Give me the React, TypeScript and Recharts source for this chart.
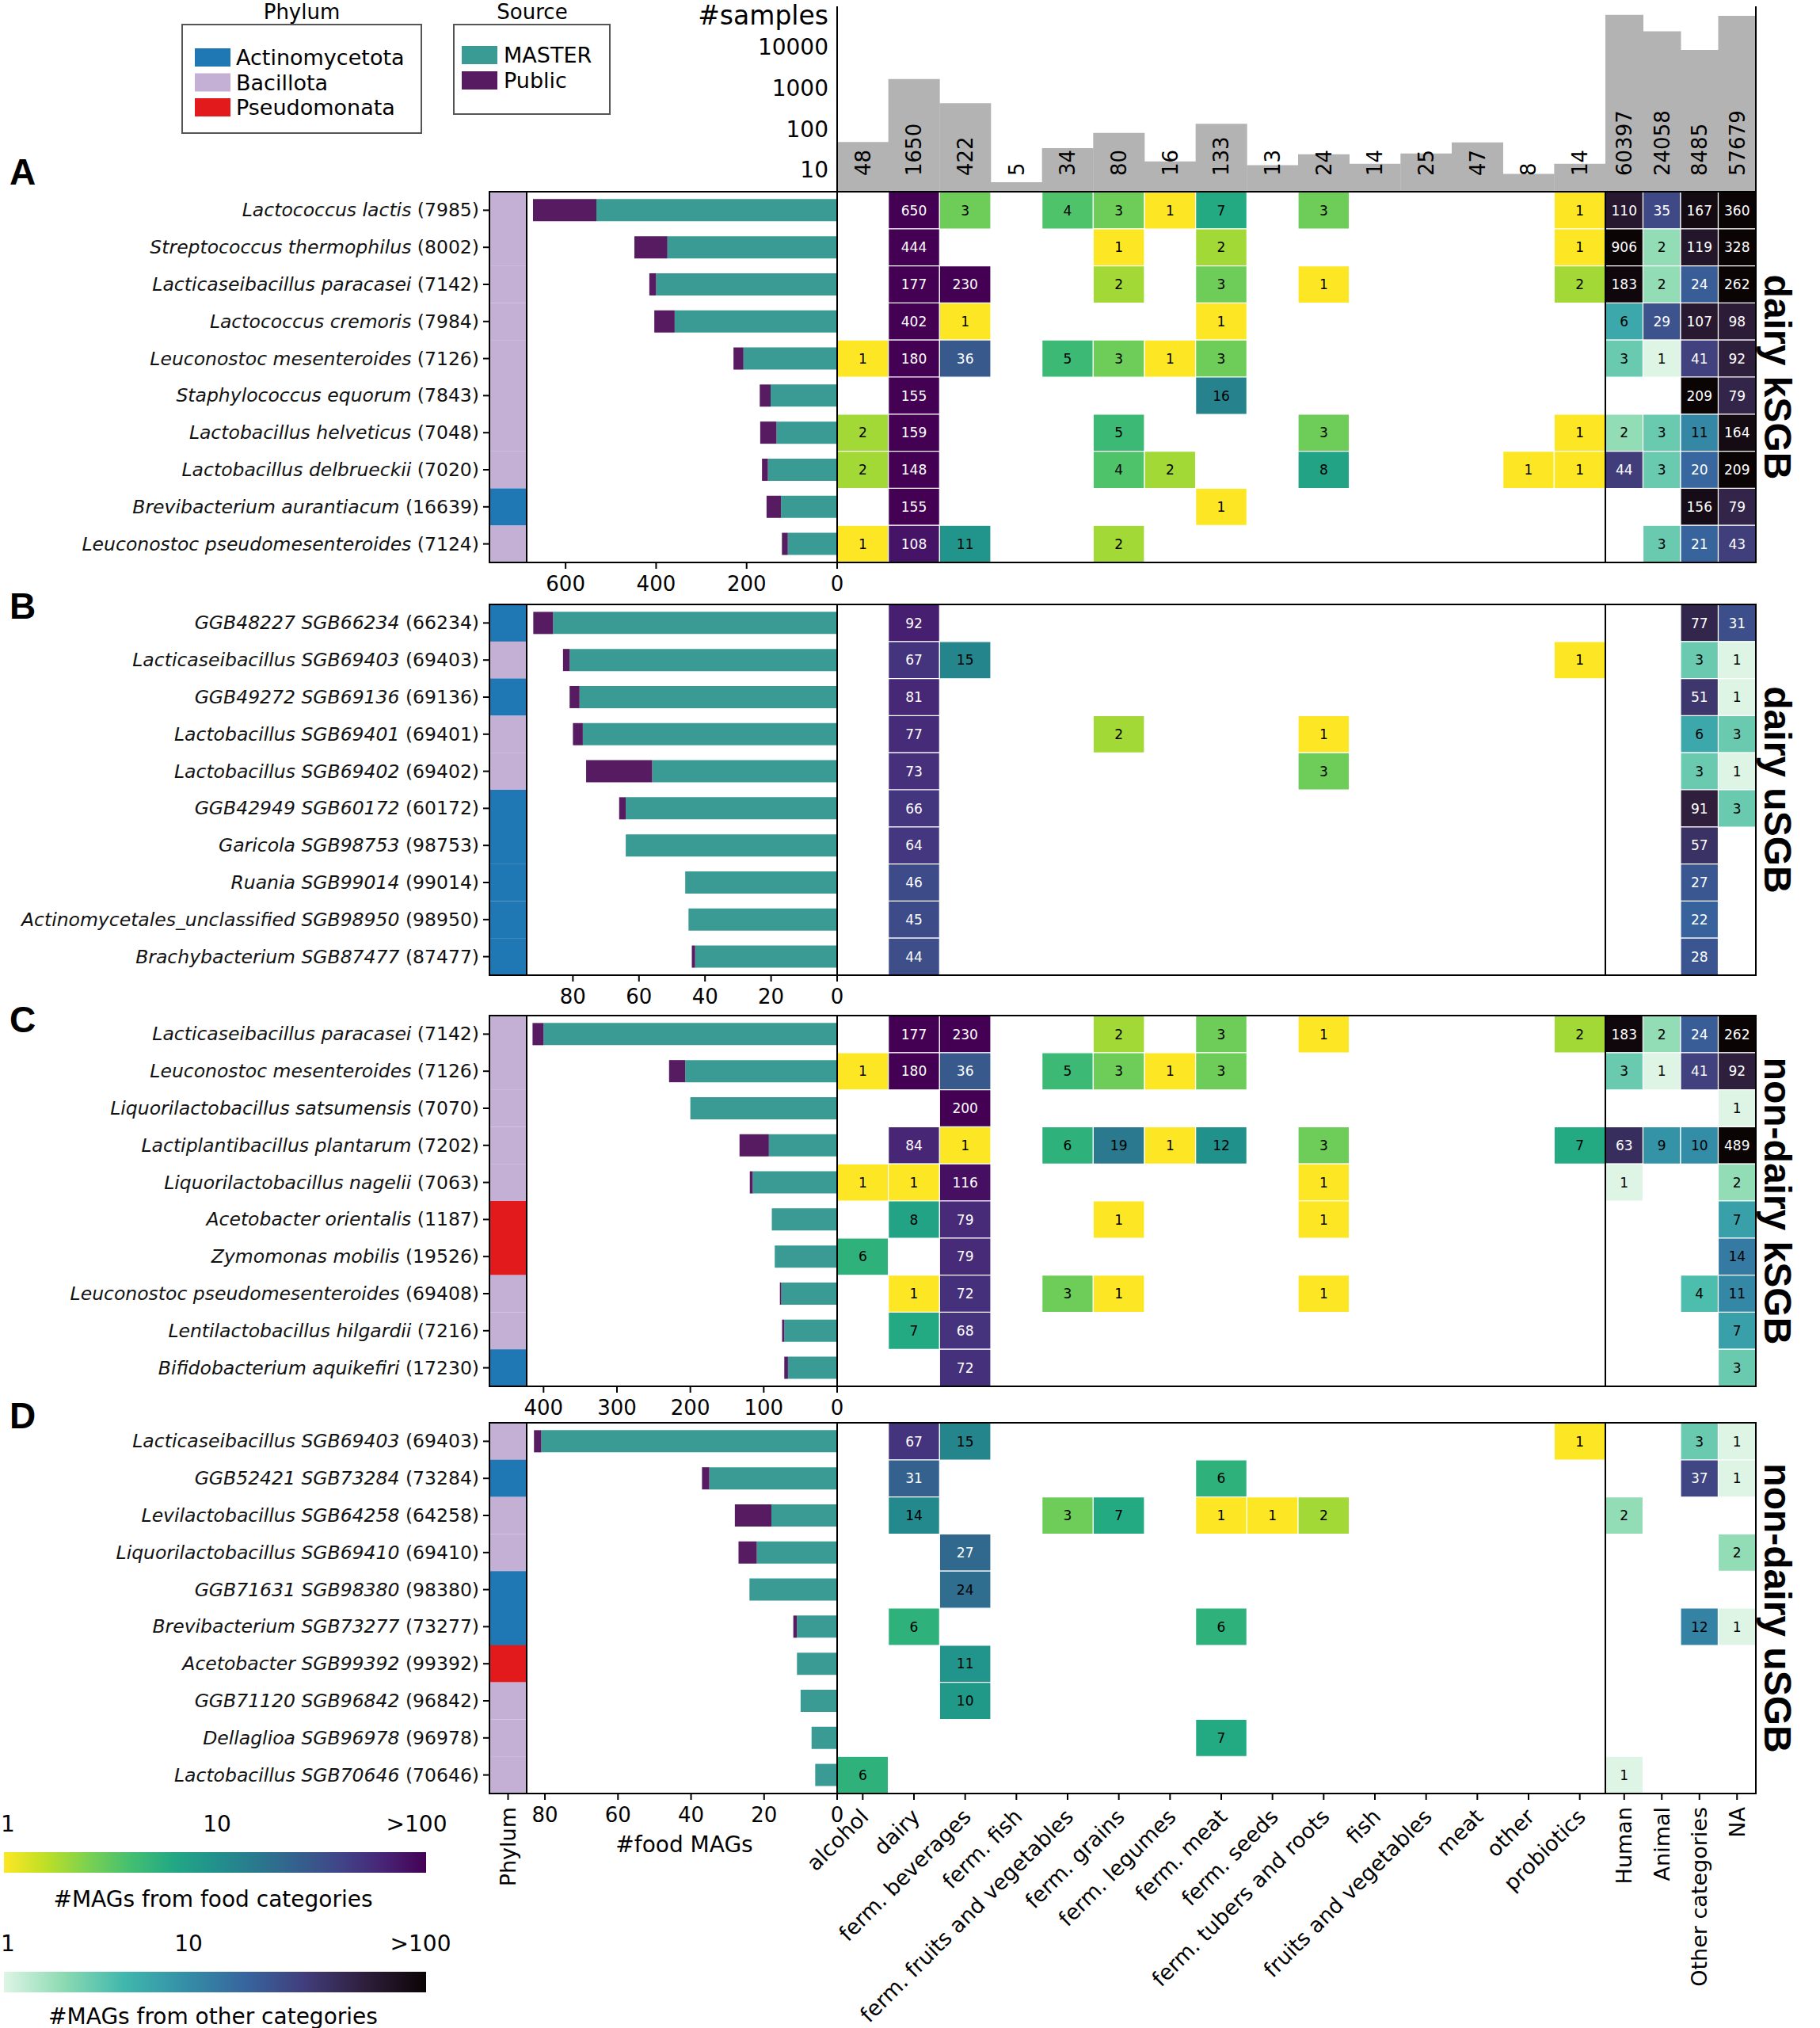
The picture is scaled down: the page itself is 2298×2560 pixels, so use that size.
import React from 'react'
import { BarChart, Bar, XAxis, YAxis, Cell, LabelList } from 'recharts'

// ---------- categories & sample counts ----------
const FOOD_CATS = [
  'alcohol', 'dairy', 'ferm. beverages', 'ferm. fish', 'ferm. fruits and vegetables',
  'ferm. grains', 'ferm. legumes', 'ferm. meat', 'ferm. seeds', 'ferm. tubers and roots',
  'fish', 'fruits and vegetables', 'meat', 'other', 'probiotics',
]
const OTHER_CATS = ['Human', 'Animal', 'Other categories', 'NA']
const FOOD_SAMPLES = [48, 1650, 422, 5, 34, 80, 16, 133, 13, 24, 14, 25, 47, 8, 14]
const OTHER_SAMPLES = [60397, 24058, 8485, 57679]

// ---------- panel A: dairy kSGB ----------
const A_NAMES = [
  'Lactococcus lactis (7985)', 'Streptococcus thermophilus (8002)', 'Lacticaseibacillus paracasei (7142)',
  'Lactococcus cremoris (7984)', 'Leuconostoc mesenteroides (7126)', 'Staphylococcus equorum (7843)',
  'Lactobacillus helveticus (7048)', 'Lactobacillus delbrueckii (7020)', 'Brevibacterium aurantiacum (16639)',
  'Leuconostoc pseudomesenteroides (7124)',
]
const A_PHYLUM = ['B', 'B', 'B', 'B', 'B', 'B', 'B', 'B', 'A', 'B']
const A_MASTER = [532, 375, 400, 359, 207, 147, 134, 153, 124, 109]
const A_PUBLIC = [140, 73, 15, 45, 22, 24, 36, 13, 32, 13]
const A_FOOD = [
  [0, 650, 3, 0, 4, 3, 1, 7, 0, 3, 0, 0, 0, 0, 1],
  [0, 444, 0, 0, 0, 1, 0, 2, 0, 0, 0, 0, 0, 0, 1],
  [0, 177, 230, 0, 0, 2, 0, 3, 0, 1, 0, 0, 0, 0, 2],
  [0, 402, 1, 0, 0, 0, 0, 1, 0, 0, 0, 0, 0, 0, 0],
  [1, 180, 36, 0, 5, 3, 1, 3, 0, 0, 0, 0, 0, 0, 0],
  [0, 155, 0, 0, 0, 0, 0, 16, 0, 0, 0, 0, 0, 0, 0],
  [2, 159, 0, 0, 0, 5, 0, 0, 0, 3, 0, 0, 0, 0, 1],
  [2, 148, 0, 0, 0, 4, 2, 0, 0, 8, 0, 0, 0, 1, 1],
  [0, 155, 0, 0, 0, 0, 0, 1, 0, 0, 0, 0, 0, 0, 0],
  [1, 108, 11, 0, 0, 2, 0, 0, 0, 0, 0, 0, 0, 0, 0],
]
const A_OTHER = [
  [110, 35, 167, 360], [906, 2, 119, 328], [183, 2, 24, 262], [6, 29, 107, 98], [3, 1, 41, 92],
  [0, 0, 209, 79], [2, 3, 11, 164], [44, 3, 20, 209], [0, 0, 156, 79], [0, 3, 21, 43],
]

// ---------- panel B: dairy uSGB ----------
const B_NAMES = [
  'GGB48227 SGB66234 (66234)', 'Lacticaseibacillus SGB69403 (69403)', 'GGB49272 SGB69136 (69136)',
  'Lactobacillus SGB69401 (69401)', 'Lactobacillus SGB69402 (69402)', 'GGB42949 SGB60172 (60172)',
  'Garicola SGB98753 (98753)', 'Ruania SGB99014 (99014)', 'Actinomycetales_unclassified SGB98950 (98950)',
  'Brachybacterium SGB87477 (87477)',
]
const B_PHYLUM = ['A', 'B', 'A', 'B', 'B', 'A', 'A', 'A', 'A', 'A']
const B_MASTER = [86, 81, 78, 77, 56, 64, 64, 46, 45, 43]
const B_PUBLIC = [6, 2, 3, 3, 20, 2, 0, 0, 0, 1]
const B_FOOD = [
  [0, 92], [0, 67, 15, 0, 0, 0, 0, 0, 0, 0, 0, 0, 0, 0, 1], [0, 81],
  [0, 77, 0, 0, 0, 2, 0, 0, 0, 1], [0, 73, 0, 0, 0, 0, 0, 0, 0, 3],
  [0, 66], [0, 64], [0, 46], [0, 45], [0, 44],
]
const B_OTHER = [
  [0, 0, 77, 31], [0, 0, 3, 1], [0, 0, 51, 1], [0, 0, 6, 3], [0, 0, 3, 1],
  [0, 0, 91, 3], [0, 0, 57, 0], [0, 0, 27, 0], [0, 0, 22, 0], [0, 0, 28, 0],
]

// ---------- panel C: non-dairy kSGB ----------
const C_NAMES = [
  'Lacticaseibacillus paracasei (7142)', 'Leuconostoc mesenteroides (7126)', 'Liquorilactobacillus satsumensis (7070)',
  'Lactiplantibacillus plantarum (7202)', 'Liquorilactobacillus nagelii (7063)', 'Acetobacter orientalis (1187)',
  'Zymomonas mobilis (19526)', 'Leuconostoc pseudomesenteroides (69408)', 'Lentilactobacillus hilgardii (7216)',
  'Bifidobacterium aquikefiri (17230)',
]
const C_PHYLUM = ['B', 'B', 'B', 'B', 'B', 'P', 'P', 'B', 'B', 'A']
const C_MASTER = [400, 207, 200, 93, 115, 89, 85, 76, 72, 67]
const C_PUBLIC = [15, 22, 0, 40, 4, 0, 0, 2, 3, 5]
const C_FOOD = [
  [0, 177, 230, 0, 0, 2, 0, 3, 0, 1, 0, 0, 0, 0, 2],
  [1, 180, 36, 0, 5, 3, 1, 3],
  [0, 0, 200],
  [0, 84, 1, 0, 6, 19, 1, 12, 0, 3, 0, 0, 0, 0, 7],
  [1, 1, 116, 0, 0, 0, 0, 0, 0, 1],
  [0, 8, 79, 0, 0, 1, 0, 0, 0, 1],
  [6, 0, 79],
  [0, 1, 72, 0, 3, 1, 0, 0, 0, 1],
  [0, 7, 68],
  [0, 0, 72],
]
const C_OTHER = [
  [183, 2, 24, 262], [3, 1, 41, 92], [0, 0, 0, 1], [63, 9, 10, 489], [1, 0, 0, 2],
  [0, 0, 0, 7], [0, 0, 0, 14], [0, 0, 4, 11], [0, 0, 0, 7], [0, 0, 0, 3],
]

// ---------- panel D: non-dairy uSGB ----------
const D_NAMES = [
  'Lacticaseibacillus SGB69403 (69403)', 'GGB52421 SGB73284 (73284)', 'Levilactobacillus SGB64258 (64258)',
  'Liquorilactobacillus SGB69410 (69410)', 'GGB71631 SGB98380 (98380)', 'Brevibacterium SGB73277 (73277)',
  'Acetobacter SGB99392 (99392)', 'GGB71120 SGB96842 (96842)', 'Dellaglioa SGB96978 (96978)',
  'Lactobacillus SGB70646 (70646)',
]
const D_PHYLUM = ['B', 'A', 'B', 'B', 'A', 'A', 'P', 'B', 'B', 'B']
const D_MASTER = [81, 35, 18, 22, 24, 11, 11, 10, 7, 6]
const D_PUBLIC = [2, 2, 10, 5, 0, 1, 0, 0, 0, 0]
const D_FOOD = [
  [0, 67, 15, 0, 0, 0, 0, 0, 0, 0, 0, 0, 0, 0, 1],
  [0, 31, 0, 0, 0, 0, 0, 6],
  [0, 14, 0, 0, 3, 7, 0, 1, 1, 2],
  [0, 0, 27], [0, 0, 24],
  [0, 6, 0, 0, 0, 0, 0, 6],
  [0, 0, 11], [0, 0, 10],
  [0, 0, 0, 0, 0, 0, 0, 7],
  [6],
]
const D_OTHER = [
  [0, 0, 3, 1], [0, 0, 37, 1], [2, 0, 0, 0], [0, 0, 0, 2], [0, 0, 0, 0],
  [0, 0, 12, 1], [0, 0, 0, 0], [0, 0, 0, 0], [0, 0, 0, 0], [1, 0, 0, 0],
]

const PANELS = [
  { letter: 'A', title: 'dairy kSGB', names: A_NAMES, phylum: A_PHYLUM, master: A_MASTER, pub: A_PUBLIC, food: A_FOOD, other: A_OTHER, max: 686, ticks: [0, 200, 400, 600] },
  { letter: 'B', title: 'dairy uSGB', names: B_NAMES, phylum: B_PHYLUM, master: B_MASTER, pub: B_PUBLIC, food: B_FOOD, other: B_OTHER, max: 94, ticks: [0, 20, 40, 60, 80] },
  { letter: 'C', title: 'non-dairy kSGB', names: C_NAMES, phylum: C_PHYLUM, master: C_MASTER, pub: C_PUBLIC, food: C_FOOD, other: C_OTHER, max: 423, ticks: [0, 100, 200, 300, 400] },
  { letter: 'D', title: 'non-dairy uSGB', names: D_NAMES, phylum: D_PHYLUM, master: D_MASTER, pub: D_PUBLIC, food: D_FOOD, other: D_OTHER, max: 85, ticks: [0, 20, 40, 60, 80] },
]

// ---------- layout ----------
const W = 2298
const H = 2560
const PHY_X = 618
const BAR_X = 665
const HEAT_X = 1057
const DIV_X = 2027
const RIGHT_X = 2217
const TOPS = [242, 763, 1282, 1796]
const LETTER_Y = [233, 781, 1303, 1803]
const PH = 468
const M0 = { top: 0, right: 0, bottom: 0, left: 0 }

const FONT = '"DejaVu Sans", Verdana, sans-serif'
const BOLD = '"Liberation Sans", Arial, sans-serif'
const MASTER_C = '#3a9b95'
const PUBLIC_C = '#561b60'
const PHYLUM_C: Record<string, string> = { A: '#1f77b4', B: '#c5b0d5', P: '#e31a1c' }
const TL = { stroke: '#000', strokeWidth: 2 }

// ---------- colour maps ----------
const VIRIDIS = ['#440154', '#482475', '#414487', '#355f8d', '#2a788e', '#21918c', '#22a884', '#44bf70', '#7ad151', '#bddf26', '#fde725']
const MAKO: [number, string][] = [
  [0, '#0b0405'], [1 / 7, '#2e1e3b'], [2 / 7, '#413d7b'], [3 / 7, '#37659e'],
  [4 / 7, '#348fa7'], [5 / 7, '#40b7ad'], [6 / 7, '#8bdab2'], [1, '#def5e5'],
]
const VIR_STOPS: [number, string][] = VIRIDIS.map((c, i) => [i / 10, c])

function rgb(h: string) {
  return [1, 3, 5].map(i => parseInt(h.slice(i, i + 2), 16))
}
function interp(stops: [number, string][], t: number) {
  t = Math.max(0, Math.min(1, t))
  let k = 0
  while (k < stops.length - 2 && t > stops[k + 1][0]) k++
  const [t0, c0] = stops[k]
  const [t1, c1] = stops[k + 1]
  const f = (t - t0) / (t1 - t0)
  const a = rgb(c0), b = rgb(c1)
  return a.map((v, i) => Math.round(v + (b[i] - v) * f))
}
const toHex = (c: number[]) => '#' + c.map(v => v.toString(16).padStart(2, '0')).join('')
const lum = (c: number[]) => (0.2126 * c[0] + 0.7152 * c[1] + 0.0722 * c[2]) / 255

const foodRgb = (v: number) => interp(VIR_STOPS, 1 - Math.log10(v) / 2.15)
const otherRgb = (v: number) => interp(MAKO, 1 - Math.log10(v) / 2.3)

// ---------- ticks & labels ----------
function SpeciesTick(props: any) {
  const { x, y, payload } = props
  const s = String(payload.value)
  const k = s.lastIndexOf(' (')
  return (
    <text x={x} y={y} textAnchor="end" dominantBaseline="central" fontSize={23.5} fill="#111">
      <tspan fontStyle="italic">{s.slice(0, k) + ' '}</tspan>
      <tspan>{s.slice(k + 1)}</tspan>
    </text>
  )
}

function PhylumTick(props: any) {
  const { x, y } = props
  return (
    <text transform={`translate(${x},${y + 9}) rotate(-90)`} textAnchor="end" dominantBaseline="central" fontSize={27} fill="#000">
      Phylum
    </text>
  )
}

function FoodTick(props: any) {
  const { x, y, payload } = props
  const lab = FOOD_CATS[Math.floor(payload.value)]
  return (
    <text transform={`translate(${x + 9},${y + 23}) rotate(-45)`} textAnchor="end" fontSize={27} fill="#000">
      {lab}
    </text>
  )
}

function OtherTick(props: any) {
  const { x, y, payload } = props
  const lab = OTHER_CATS[Math.floor(payload.value)]
  return (
    <text transform={`translate(${x},${y + 9}) rotate(-90)`} textAnchor="end" dominantBaseline="central" fontSize={27} fill="#000">
      {lab}
    </text>
  )
}

const cellLabel = (kind: 'food' | 'other') => (p: any) => {
  const v = Number(p.value)
  if (!v) return null
  const c = kind === 'food' ? foodRgb(v) : otherRgb(v)
  return (
    <text x={p.x + p.width / 2} y={p.y + p.height / 2} textAnchor="middle" dominantBaseline="central"
      fontSize={17} fill={lum(c) < 0.38 ? '#fff' : '#000'}>
      {v}
    </text>
  )
}
const foodLabel = cellLabel('food')
const otherLabel = cellLabel('other')

const histLabel = (p: any) => {
  const cx = p.x + p.width / 2
  const by = p.y + p.height - 20
  return (
    <text transform={`translate(${cx},${by}) rotate(-90)`} textAnchor="start" dominantBaseline="central" fontSize={26} fill="#000">
      {p.value}
    </text>
  )
}

// ---------- rows ----------
function buildRows(p: any) {
  return p.names.map((name: string, i: number) => {
    const r: any = { name, phy: p.phylum[i], one: 1, master: p.master[i], pub: p.pub[i] }
    FOOD_CATS.forEach((_, j) => { r['u' + j] = 1; r['f' + j] = p.food[i][j] ?? 0 })
    OTHER_CATS.forEach((_, j) => { r['w' + j] = 1; r['o' + j] = p.other[i][j] ?? 0 })
    return r
  })
}

const FOOD_TICKS = FOOD_CATS.map((_, j) => j + 0.5)
const OTHER_TICKS = OTHER_CATS.map((_, j) => j + 0.5)

function Panel({ p, top, last }: { p: any; top: number; last: boolean }) {
  const rows = buildRows(p)
  const axPhy = last ? 140 : 20
  const axHeat = last ? 300 : 14
  return (
    <>
      <div style={{ position: 'absolute', left: 0, top }}>
        <BarChart width={BAR_X} height={PH + axPhy} data={rows} layout="vertical" margin={M0} barCategoryGap={0}>
          <XAxis type="number" domain={[0, 1]} ticks={[0.5]} allowDataOverflow tickSize={8} tickMargin={0}
            tickLine={TL} axisLine={false} height={axPhy} tick={last ? <PhylumTick /> : false} />
          <YAxis type="category" dataKey="name" width={PHY_X} tickSize={8} tickMargin={5} tickLine={TL}
            axisLine={false} tick={<SpeciesTick />} interval={0} />
          <Bar dataKey="one" isAnimationActive={false}>
            {rows.map((r: any, i: number) => <Cell key={i} fill={PHYLUM_C[r.phy]} />)}
          </Bar>
        </BarChart>
      </div>
      <div style={{ position: 'absolute', left: BAR_X, top }}>
        <BarChart width={HEAT_X - BAR_X} height={PH + 50} data={rows} layout="vertical" margin={M0} barCategoryGap="20%">
          <XAxis type="number" domain={[0, p.max]} reversed allowDataOverflow ticks={p.ticks} tickSize={8} tickMargin={10}
            tickLine={TL} axisLine={false} height={50} interval={0} tick={{ fontSize: 26, fill: '#000' }} />
          <YAxis type="category" dataKey="name" hide />
          <Bar dataKey="master" stackId="s" fill={MASTER_C} isAnimationActive={false} />
          <Bar dataKey="pub" stackId="s" fill={PUBLIC_C} isAnimationActive={false} />
        </BarChart>
      </div>
      <div style={{ position: 'absolute', left: HEAT_X, top }}>
        <BarChart width={DIV_X - HEAT_X} height={PH + axHeat} data={rows} layout="vertical" margin={M0} barCategoryGap={0}>
          <XAxis type="number" domain={[0, FOOD_CATS.length]} ticks={FOOD_TICKS} allowDataOverflow tickSize={8} tickMargin={0}
            tickLine={TL} axisLine={false} height={axHeat} interval={0} tick={last ? <FoodTick /> : false} />
          <YAxis type="category" dataKey="name" hide />
          {FOOD_CATS.map((c, j) => (
            <Bar key={c} dataKey={'u' + j} stackId="h" isAnimationActive={false}>
              {rows.map((r: any, i: number) => (
                <Cell key={i} fill={r['f' + j] ? toHex(foodRgb(r['f' + j])) : 'rgba(255,255,255,0)'}
                  stroke={r['f' + j] ? '#ffffff' : 'none'} strokeWidth={1.2} />
              ))}
              <LabelList dataKey={'f' + j} content={foodLabel} />
            </Bar>
          ))}
        </BarChart>
      </div>
      <div style={{ position: 'absolute', left: DIV_X, top }}>
        <BarChart width={RIGHT_X - DIV_X} height={PH + axHeat} data={rows} layout="vertical" margin={M0} barCategoryGap={0}>
          <XAxis type="number" domain={[0, OTHER_CATS.length]} ticks={OTHER_TICKS} allowDataOverflow tickSize={8} tickMargin={0}
            tickLine={TL} axisLine={false} height={axHeat} interval={0} tick={last ? <OtherTick /> : false} />
          <YAxis type="category" dataKey="name" hide />
          {OTHER_CATS.map((c, j) => (
            <Bar key={c} dataKey={'w' + j} stackId="h" isAnimationActive={false}>
              {rows.map((r: any, i: number) => (
                <Cell key={i} fill={r['o' + j] ? toHex(otherRgb(r['o' + j])) : 'rgba(255,255,255,0)'}
                  stroke={r['o' + j] ? '#ffffff' : 'none'} strokeWidth={1.2} />
              ))}
              <LabelList dataKey={'o' + j} content={otherLabel} />
            </Bar>
          ))}
        </BarChart>
      </div>
    </>
  )
}

const HIST_DOMAIN: [number, number] = [2.93, 98000]
const HIST_TICKS = [10, 100, 1000, 10000]

function Histogram() {
  const food = FOOD_CATS.map((name, i) => ({ name, n: FOOD_SAMPLES[i] }))
  const other = OTHER_CATS.map((name, i) => ({ name, n: OTHER_SAMPLES[i] }))
  const YW = 110
  return (
    <>
      <div style={{ position: 'absolute', left: HEAT_X - YW, top: 0 }}>
        <BarChart width={DIV_X - HEAT_X + YW} height={252} data={food} margin={{ top: 8, right: 0, bottom: 0, left: 0 }} barCategoryGap={0}>
          <XAxis dataKey="name" type="category" tick={false} tickSize={8} tickLine={TL} axisLine={false} height={10} interval={0} />
          <YAxis type="number" scale="log" domain={HIST_DOMAIN} allowDataOverflow ticks={HIST_TICKS} width={YW}
            tickSize={0} tickMargin={11} tick={{ fontSize: 28, fill: '#000' }} axisLine={TL} interval={0} />
          <Bar dataKey="n" fill="#b3b3b3" isAnimationActive={false}>
            <LabelList dataKey="n" content={histLabel} />
          </Bar>
        </BarChart>
      </div>
      <div style={{ position: 'absolute', left: DIV_X, top: 0 }}>
        <BarChart width={RIGHT_X - DIV_X} height={252} data={other} margin={{ top: 8, right: 0, bottom: 0, left: 0 }} barCategoryGap={0}>
          <XAxis dataKey="name" type="category" tick={false} tickSize={8} tickLine={TL} axisLine={false} height={10} interval={0} />
          <YAxis type="number" scale="log" domain={HIST_DOMAIN} allowDataOverflow hide />
          <Bar dataKey="n" fill="#b3b3b3" isAnimationActive={false}>
            <LabelList dataKey="n" content={histLabel} />
          </Bar>
        </BarChart>
      </div>
    </>
  )
}

function Overlay() {
  const phyItems: [string, string][] = [['Actinomycetota', PHYLUM_C.A], ['Bacillota', PHYLUM_C.B], ['Pseudomonata', PHYLUM_C.P]]
  const srcItems: [string, string][] = [['MASTER', MASTER_C], ['Public', PUBLIC_C]]
  return (
    <svg width={W} height={H} style={{ position: 'absolute', left: 0, top: 0, pointerEvents: 'none' }}>
      <defs>
        <linearGradient id="gFood" x1="0" x2="1" y1="0" y2="0">
          {VIRIDIS.map((c, i) => <stop key={i} offset={i / 10} stopColor={VIRIDIS[10 - i]} />)}
        </linearGradient>
        <linearGradient id="gOther" x1="0" x2="1" y1="0" y2="0">
          {MAKO.map(([t], i) => <stop key={i} offset={1 - t} stopColor={MAKO[i][1]} />).reverse()}
        </linearGradient>
      </defs>

      {/* legends */}
      <text x={381} y={24} textAnchor="middle" fontSize={26}>Phylum</text>
      <rect x={230} y={31} width={302} height={137} fill="#fff" stroke="#555" strokeWidth={2} />
      {phyItems.map(([n, c], i) => (
        <g key={n}>
          <rect x={246} y={61 + i * 31.5} width={45} height={23} fill={c} />
          <text x={298} y={72.5 + i * 31.5} dominantBaseline="central" fontSize={27}>{n}</text>
        </g>
      ))}
      <text x={672} y={24} textAnchor="middle" fontSize={26}>Source</text>
      <rect x={573} y={31} width={197} height={113} fill="#fff" stroke="#555" strokeWidth={2} />
      {srcItems.map(([n, c], i) => (
        <g key={n}>
          <rect x={583} y={58 + i * 32} width={45} height={23} fill={c} />
          <text x={636} y={69.5 + i * 32} dominantBaseline="central" fontSize={27}>{n}</text>
        </g>
      ))}
      <text x={1046} y={31} textAnchor="end" fontSize={33}>#samples</text>
      <line x1={RIGHT_X} y1={8} x2={RIGHT_X} y2={242} stroke="#000" strokeWidth={2} />

      {/* panel frames and labels */}
      {PANELS.map((p, k) => {
        const t = TOPS[k]
        return (
          <g key={p.letter}>
            <rect x={PHY_X} y={t} width={HEAT_X - PHY_X} height={PH} fill="none" stroke="#000" strokeWidth={2} />
            <line x1={BAR_X} y1={t} x2={BAR_X} y2={t + PH} stroke="#000" strokeWidth={2} />
            <rect x={HEAT_X} y={t} width={RIGHT_X - HEAT_X} height={PH} fill="none" stroke="#000" strokeWidth={2} />
            <line x1={DIV_X} y1={t} x2={DIV_X} y2={t + PH} stroke="#000" strokeWidth={2} />
            <text x={12} y={LETTER_Y[k]} fontFamily={BOLD} fontWeight="bold" fontSize={46}>{p.letter}</text>
            <text transform={`translate(2244,${t + PH / 2}) rotate(90)`} textAnchor="middle" dominantBaseline="central"
              fontFamily={BOLD} fontWeight="bold" fontSize={48}>{p.title}</text>
          </g>
        )
      })}
      <text x={864} y={2328} textAnchor="middle" dominantBaseline="central" fontSize={28}>#food MAGs</text>

      {/* colour bars */}
      <text x={1} y={2302} dominantBaseline="central" fontSize={28}>1</text>
      <text x={274} y={2302} textAnchor="middle" dominantBaseline="central" fontSize={28}>10</text>
      <text x={526} y={2302} textAnchor="middle" dominantBaseline="central" fontSize={28}>{'>100'}</text>
      <rect x={5} y={2338} width={533} height={26} fill="url(#gFood)" />
      <text x={269} y={2397} textAnchor="middle" dominantBaseline="central" fontSize={28}>#MAGs from food categories</text>
      <text x={1} y={2453} dominantBaseline="central" fontSize={28}>1</text>
      <text x={238} y={2453} textAnchor="middle" dominantBaseline="central" fontSize={28}>10</text>
      <text x={531} y={2453} textAnchor="middle" dominantBaseline="central" fontSize={28}>{'>100'}</text>
      <rect x={5} y={2489} width={533} height={26} fill="url(#gOther)" />
      <text x={269} y={2545} textAnchor="middle" dominantBaseline="central" fontSize={28}>#MAGs from other categories</text>
    </svg>
  )
}

export default function App() {
  return (
    <div style={{ position: 'absolute', left: 0, top: 0, width: W, height: H, background: '#fff', fontFamily: FONT, overflow: 'hidden' }}>
      <style>{'.recharts-surface{overflow:visible}.recharts-wrapper{overflow:visible}'}</style>
      {PANELS.map((p, k) => <Panel key={p.letter} p={p} top={TOPS[k]} last={k === PANELS.length - 1} />)}
      <Histogram />
      <Overlay />
    </div>
  )
}
